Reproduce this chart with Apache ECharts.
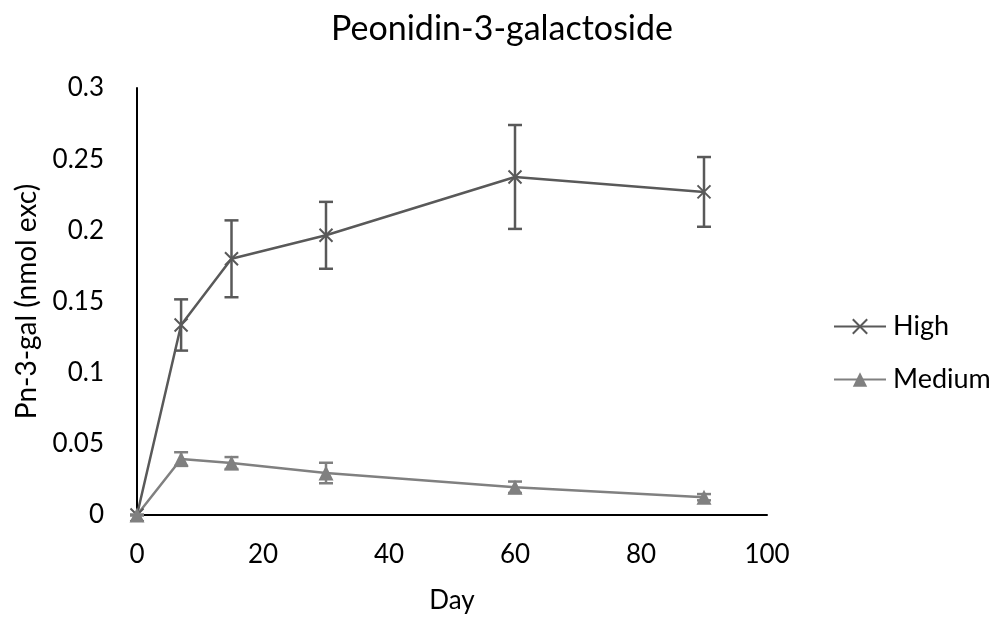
<!DOCTYPE html>
<html>
<head>
<meta charset="utf-8">
<script src="https://cdn.jsdelivr.net/npm/echarts@6/dist/echarts.min.js"></script>
<style>
  html, body { margin: 0; padding: 0; background: #fff; }
  #chart { width: 1003px; height: 620px; }
</style>
</head>
<body>
<div id="chart"></div>
<script>
// Sampling days and measured concentrations (mean ± error)
const days = [0, 7, 15, 30, 60, 90];
const highMean = [0, 0.1335, 0.180, 0.1965, 0.2375, 0.227];
const highErr = [0, 0.018, 0.027, 0.0235, 0.0365, 0.0245];
const mediumMean = [0, 0.0393, 0.0365, 0.0295, 0.0195, 0.0125];
const mediumErr = [0, 0.0048, 0.0042, 0.0072, 0.004, 0.0022];
const xTicks = [0, 20, 40, 60, 80, 100];
const yTicks = [0, 0.05, 0.1, 0.15, 0.2, 0.25, 0.3];

const FONT = 'Lato, "Open Sans", sans-serif';
const HIGH_COLOR = '#595959';
const MED_COLOR = '#808080';

function pairs(ys) { return days.map((d, i) => [d, ys[i]]); }
function errData(ys, es) { return days.map((d, i) => [d, ys[i] - es[i], ys[i] + es[i]]); }

// Vertical whisker with caps at both ends
function errorBars(color, width) {
  return function (params, api) {
    const x = api.value(0);
    const lo = api.coord([x, api.value(1)]);
    const hi = api.coord([x, api.value(2)]);
    const half = 7;
    const style = { stroke: color, lineWidth: width, fill: null };
    return {
      type: 'group',
      children: [
        { type: 'line', shape: { x1: lo[0], y1: lo[1], x2: hi[0], y2: hi[1] }, style },
        { type: 'line', shape: { x1: hi[0] - half, y1: hi[1], x2: hi[0] + half, y2: hi[1] }, style },
        { type: 'line', shape: { x1: lo[0] - half, y1: lo[1], x2: lo[0] + half, y2: lo[1] }, style }
      ]
    };
  };
}

const chart = echarts.init(document.getElementById('chart'), null, { renderer: 'canvas' });

chart.setOption({
  animation: false,
  backgroundColor: '#fff',
  title: {
    text: 'Peonidin-3-galactoside',
    left: 497,
    textAlign: 'center',
    top: 7,
    textStyle: { fontFamily: FONT, fontSize: 34, fontWeight: 'normal', color: '#000' }
  },
  legend: {
    orient: 'vertical',
    left: 828,
    top: 308,
    itemWidth: 52,
    itemHeight: 18,
    itemGap: 26,
    textStyle: { fontFamily: FONT, fontSize: 27, color: '#000', padding: [0, 0, 0, 2] },
    data: ['High', 'Medium']
  },
  grid: { left: 137, right: 236, top: 88, bottom: 105, containLabel: false },
  xAxis: {
    type: 'value',
    min: xTicks[0],
    max: xTicks[xTicks.length - 1],
    interval: 20,
    name: 'Day',
    nameLocation: 'middle',
    nameGap: 73,
    nameTextStyle: { fontFamily: FONT, fontSize: 26, color: '#000' },
    axisLine: { lineStyle: { color: '#000', width: 2 } },
    axisTick: { show: false },
    splitLine: { show: false },
    axisLabel: { fontFamily: FONT, fontSize: 26, color: '#000', margin: 27 }
  },
  yAxis: {
    type: 'value',
    min: yTicks[0],
    max: yTicks[yTicks.length - 1],
    interval: 0.05,
    name: 'Pn-3-gal (nmol exc)',
    nameLocation: 'middle',
    nameGap: 96,
    nameTextStyle: { fontFamily: FONT, fontSize: 28, color: '#000' },
    axisLine: { lineStyle: { color: '#000', width: 2 } },
    axisTick: { show: false },
    splitLine: { show: false },
    axisLabel: { fontFamily: FONT, fontSize: 26, color: '#000', margin: 33 }
  },
  series: [
    {
      name: 'High',
      type: 'line',
      data: pairs(highMean),
      symbol: 'path://M0 0L10 10M10 0L0 10',
      symbolSize: 13,
      showSymbol: true,
      lineStyle: { color: HIGH_COLOR, width: 2.5 },
      itemStyle: { color: 'rgba(0,0,0,0)', borderColor: HIGH_COLOR, borderWidth: 2 },
      z: 3
    },
    {
      name: 'Medium',
      type: 'line',
      data: pairs(mediumMean),
      symbol: 'triangle',
      symbolSize: 15,
      lineStyle: { color: MED_COLOR, width: 2.5 },
      itemStyle: { color: MED_COLOR },
      z: 3
    },
    {
      name: 'High',
      type: 'custom',
      data: errData(highMean, highErr),
      renderItem: errorBars(HIGH_COLOR, 2.5),
      encode: { x: 0, y: [1, 2] },
      z: 2
    },
    {
      name: 'Medium',
      type: 'custom',
      data: errData(mediumMean, mediumErr),
      renderItem: errorBars(MED_COLOR, 2.5),
      encode: { x: 0, y: [1, 2] },
      z: 2
    }
  ]
});
</script>
</body>
</html>
